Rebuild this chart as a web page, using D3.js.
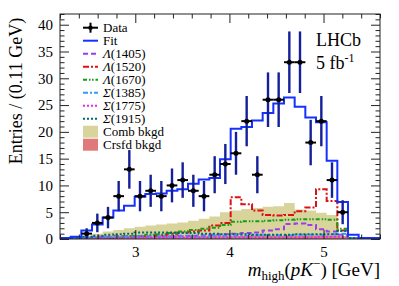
<!DOCTYPE html>
<html lang="en">
<head>
<meta charset="utf-8">
<title>m_high(pK-) fit</title>
<style>
body{
  margin: 0;
  background: #fff;
}
svg text{
  font-family: "Liberation Serif", "DejaVu Serif", serif;
  fill: #000;
}
.axis text{
  font-size: 15px;
}
.axis line{
  stroke: #222;
}
</style>
</head>
<body>
<div id="chart"></div>
<script src="https://d3js.org/d3.v7.min.js"></script>
<script>
  // binning: 30 bins from 2.2 to 5.6 GeV
  const binLo = 2.2, binHi = 5.6, nBins = 30;

  // data (bins 2..26)
  const dataFirstBin = 2;
  const dataCounts = [1, 3, 4, 8, 13, 8, 9, 8, 10, 11, 9, 8, 12, 14, 16, 22, 12, 26, 26, 33, 33, 18, 22, 11, 5];

  // fit and components, one value per bin
  const fitVals = [0.2, 0.4, 1.6, 2.7, 4.0, 5.3, 6.2, 7.9, 8.4, 8.5, 9.0, 9.3, 10.3, 11.1, 11.4, 14.9, 20.6, 20.9, 22.1, 23.5, 25.3, 26.4, 24.7, 22.7, 21.8, 14.6, 6.9, 0.8, 0.2, 0.2];
  const combVals = [0, 0.1, 0.6, 1.0, 1.4, 1.7, 2.0, 2.3, 2.5, 2.7, 2.9, 3.1, 3.4, 3.8, 4.2, 5.0, 5.3, 5.6, 5.8, 6.0, 6.1, 6.7, 5.5, 5.3, 4.9, 4.5, 0, 0, 0, 0];
  const crsfdVals = [0, 0.1, 0.2, 0.3, 0.3, 0.3, 0.4, 0.4, 0.4, 0.4, 0.4, 0.4, 0.5, 0.5, 0.5, 0.5, 0.5, 0.6, 0.6, 0.6, 0.6, 0.6, 0.6, 0.6, 0.6, 0.6, 0.5, 0.1, 0, 0];
  const lam1405 = [0.1, 0.2, 0.3, 0.4, 0.4, 0.5, 0.5, 0.5, 0.5, 0.5, 0.5, 0.6, 0.6, 0.7, 0.8, 0.9, 1.0, 1.1, 1.2, 1.6, 1.8, 2.8, 2.9, 2.6, 1.8, 1.4, 0.8, 0.1, 0, 0];
  const lam1520 = [0.1, 0.1, 0.1, 0.2, 0.2, 0.3, 0.4, 0.5, 0.6, 0.7, 1.0, 1.2, 1.4, 1.6, 2.5, 3.0, 7.8, 6.5, 5.3, 4.5, 4.4, 4.5, 5.2, 5.9, 9.3, 7.1, 1.6, 0.2, 0, 0];
  const lam1670 = [0.1, 0.1, 0.2, 0.3, 0.3, 0.4, 0.5, 0.6, 0.8, 0.9, 1.1, 1.4, 1.7, 1.9, 2.1, 2.6, 3.2, 3.3, 3.3, 3.4, 3.5, 3.6, 3.7, 3.7, 3.7, 3.6, 1.9, 0.2, 0, 0];
  const sig1385 = [0.1, 0.2, 0.3, 0.3, 0.4, 0.4, 0.4, 0.5, 0.5, 0.5, 0.5, 0.5, 0.5, 0.5, 0.6, 0.6, 0.6, 0.6, 0.7, 0.7, 0.7, 0.7, 0.8, 0.8, 0.8, 0.9, 1.0, 0.2, 0, 0];
  const sig1775 = [0, 0.1, 0.1, 0.2, 0.2, 0.2, 0.2, 0.3, 0.3, 0.3, 0.3, 0.3, 0.3, 0.3, 0.3, 0.3, 0.3, 0.3, 0.3, 0.3, 0.3, 0.3, 0.3, 0.3, 0.4, 0.4, 0.4, 0.1, 0, 0];
  const sig1915 = [0.1, 0.2, 0.4, 0.6, 0.8, 0.9, 1.0, 1.2, 1.2, 1.2, 1.2, 1.1, 1.1, 1.0, 1.0, 0.9, 0.9, 0.9, 0.8, 0.8, 0.8, 0.8, 0.9, 0.9, 0.9, 0.9, 1.5, 0.2, 0, 0];

  const xTicks = [3, 4, 5];
  const yTicks = [0, 5, 10, 15, 20, 25, 30, 35, 40];

  const components = [
    { sym: "\u039B", mass: "(1405)", vals: lam1405, color: "#9b3cf0", dash: "5,3" },
    { sym: "\u039B", mass: "(1520)", vals: lam1520, color: "#dd1111", dash: "6,2,2,2" },
    { sym: "\u039B", mass: "(1670)", vals: lam1670, color: "#11a011", dash: "4,2,1.5,1.5,1.5,2" },
    { sym: "\u03A3", mass: "(1385)", vals: sig1385, color: "#3399ff", dash: "5,2,2,2" },
    { sym: "\u03A3", mass: "(1775)", vals: sig1775, color: "#ee22ee", dash: "2,2" },
    { sym: "\u03A3", mass: "(1915)", vals: sig1915, color: "#006b6b", dash: "2,2" }
  ];

  const width = 399, height = 286;
  const margin = { top: 14, right: 19, bottom: 47, left: 60 };

  const svg = d3.select("#chart")
    .append("svg")
    .attr("width", width)
    .attr("height", height);

  const x = d3.scaleLinear()
    .domain([binLo, binHi])
    .range([margin.left, width - margin.right]);

  const y = d3.scaleLinear()
    .domain([0, 42])
    .range([height - margin.bottom, margin.top]);

  const binW = (binHi - binLo) / nBins;
  const edge = k => binLo + k * binW;
  const stepPts = vals => vals.map((v, k) => [edge(k), v]).concat([[binHi, vals[vals.length - 1]]]);

  svg.append("clipPath").attr("id", "clip")
    .append("rect")
    .attr("x", margin.left).attr("y", margin.top)
    .attr("width", width - margin.left - margin.right)
    .attr("height", height - margin.top - margin.bottom);

  const plot = svg.append("g").attr("clip-path", "url(#clip)");

  const area = d3.area()
    .curve(d3.curveStepAfter)
    .x(d => x(d[0]))
    .y0(y(0))
    .y1(d => y(d[1]));

  const line = d3.line()
    .curve(d3.curveStepAfter)
    .x(d => x(d[0]))
    .y(d => y(d[1]));

  // background fills
  plot.append("path").attr("d", area(stepPts(combVals)))
    .attr("fill", "#d9d49c");
  plot.append("path").attr("d", area(stepPts(crsfdVals)))
    .attr("fill", "#e07a7a");

  // signal components
  components.forEach(c => {
    plot.append("path").attr("d", line(stepPts(c.vals)))
      .attr("fill", "none")
      .attr("stroke", c.color)
      .attr("stroke-width", 2)
      .attr("stroke-dasharray", c.dash);
  });

  // total fit
  plot.append("path").attr("d", line(stepPts(fitVals)))
    .attr("fill", "none")
    .attr("stroke", "#1530ff")
    .attr("stroke-width", 2);

  // data points
  const pts = dataCounts.map((n, i) => ({ k: i + dataFirstBin, n: n }));
  const g = plot.append("g");
  g.selectAll(".ey").data(pts).enter().append("line")
    .attr("x1", d => x(edge(d.k) + binW / 2)).attr("x2", d => x(edge(d.k) + binW / 2))
    .attr("y1", d => y(d.n + Math.sqrt(d.n))).attr("y2", d => y(Math.max(0, d.n - Math.sqrt(d.n))))
    .attr("stroke", "#14209a").attr("stroke-width", 2.4);
  g.selectAll(".ex").data(pts).enter().append("line")
    .attr("x1", d => x(edge(d.k))).attr("x2", d => x(edge(d.k + 1)))
    .attr("y1", d => y(d.n)).attr("y2", d => y(d.n))
    .attr("stroke", "#000").attr("stroke-width", 2);
  g.selectAll("circle").data(pts).enter().append("circle")
    .attr("cx", d => x(edge(d.k) + binW / 2)).attr("cy", d => y(d.n))
    .attr("r", 2.5).attr("fill", "#000");

  // axes with inward ticks on all sides
  const xMinor = d3.range(2.2, 5.61, 0.2).filter(v => Math.abs(v - Math.round(v)) > 0.01);
  const yMinor = d3.range(0, 43, 1).filter(v => v % 5 !== 0);
  const bottom = height - margin.bottom, right = width - margin.right;

  svg.append("g").attr("class", "axis").attr("transform", `translate(0,${bottom})`)
    .call(d3.axisBottom(x).tickValues(xTicks).tickSize(-9).tickPadding(7).tickFormat(d3.format("d")));
  svg.append("g").attr("class", "axis").attr("transform", `translate(0,${bottom})`)
    .call(d3.axisBottom(x).tickValues(xMinor).tickSize(-4.5).tickFormat(""));
  svg.append("g").attr("class", "axis").attr("transform", `translate(0,${margin.top})`)
    .call(d3.axisTop(x).tickValues(xTicks).tickSize(-9).tickFormat(""));
  svg.append("g").attr("class", "axis").attr("transform", `translate(0,${margin.top})`)
    .call(d3.axisTop(x).tickValues(xMinor).tickSize(-4.5).tickFormat(""));

  svg.append("g").attr("class", "axis").attr("transform", `translate(${margin.left},0)`)
    .call(d3.axisLeft(y).tickValues(yTicks).tickSize(-9).tickPadding(7));
  svg.append("g").attr("class", "axis").attr("transform", `translate(${margin.left},0)`)
    .call(d3.axisLeft(y).tickValues(yMinor).tickSize(-4.5).tickFormat(""));
  svg.append("g").attr("class", "axis").attr("transform", `translate(${right},0)`)
    .call(d3.axisRight(y).tickValues(yTicks).tickSize(-9).tickFormat(""));
  svg.append("g").attr("class", "axis").attr("transform", `translate(${right},0)`)
    .call(d3.axisRight(y).tickValues(yMinor).tickSize(-4.5).tickFormat(""));

  svg.selectAll(".domain").remove();

  svg.append("rect")
    .attr("x", margin.left).attr("y", margin.top)
    .attr("width", right - margin.left).attr("height", bottom - margin.top)
    .attr("fill", "none").attr("stroke", "#222").attr("stroke-width", 1);

  // axis titles
  svg.append("text")
    .attr("transform", `translate(22,${(margin.top + 168) / 2}) rotate(-90)`)
    .attr("text-anchor", "middle")
    .style("font-size", "18px")
    .text("Entries / (0.11 GeV)");

  const xt = svg.append("text")
    .attr("x", right).attr("y", 276)
    .attr("text-anchor", "end")
    .style("font-size", "19px");
  xt.append("tspan").style("font-style", "italic").text("m");
  xt.append("tspan").attr("dy", 4).style("font-size", "13px").text("high");
  xt.append("tspan").attr("dy", -4).text("(");
  xt.append("tspan").style("font-style", "italic").text("pK");
  xt.append("tspan").attr("dy", -8).style("font-size", "13px").text("\u2212");
  xt.append("tspan").attr("dy", 8).text(") [GeV]");

  // LHCb label
  svg.append("text").attr("x", 316).attr("y", 46).style("font-size", "18px").text("LHCb");
  const lum = svg.append("text").attr("x", 316).attr("y", 69).style("font-size", "18px");
  lum.append("tspan").text("5 fb");
  lum.append("tspan").attr("dy", -7).style("font-size", "12px").text("-1");

  // legend
  const lx = 83, lw = 15, tx = 103, ly0 = 27.7, dy = 13.0;
  const legend = svg.append("g");
  const addLabel = (i, parts) => {
    const t = legend.append("text").attr("x", tx).attr("y", ly0 + i * dy).attr("dy", "0.35em")
      .style("font-size", "13px");
    parts.forEach(p => t.append("tspan").style("font-style", p[1] ? "italic" : "normal").text(p[0]));
  };
  addLabel(0, [["Data", false]]);
  addLabel(1, [["Fit", false]]);
  components.forEach((c, i) => addLabel(i + 2, [[c.sym, true], [c.mass, false]]));
  addLabel(8, [["Comb bkgd", false]]);
  addLabel(9, [["Crsfd bkgd", false]]);

  legend.append("line").attr("x1", lx).attr("x2", lx + lw).attr("y1", ly0).attr("y2", ly0)
    .attr("stroke", "#000").attr("stroke-width", 2);
  legend.append("line").attr("x1", lx + lw / 2).attr("x2", lx + lw / 2).attr("y1", ly0 - 5).attr("y2", ly0 + 5)
    .attr("stroke", "#000").attr("stroke-width", 2);
  legend.append("circle").attr("cx", lx + lw / 2).attr("cy", ly0).attr("r", 2.2).attr("fill", "#000");
  legend.append("line").attr("x1", lx).attr("x2", lx + lw).attr("y1", ly0 + dy).attr("y2", ly0 + dy)
    .attr("stroke", "#1530ff").attr("stroke-width", 2);
  components.forEach((c, i) => {
    const cy = ly0 + (i + 2) * dy;
    legend.append("line").attr("x1", lx).attr("x2", lx + lw).attr("y1", cy).attr("y2", cy)
      .attr("stroke", c.color).attr("stroke-width", 2).attr("stroke-dasharray", c.dash);
  });
  legend.append("rect").attr("x", lx).attr("y", ly0 + 8 * dy - 6).attr("width", lw).attr("height", 12)
    .attr("fill", "#d9d49c");
  legend.append("rect").attr("x", lx).attr("y", ly0 + 9 * dy - 6).attr("width", lw).attr("height", 12)
    .attr("fill", "#e07a7a");
</script>
</body>
</html>
